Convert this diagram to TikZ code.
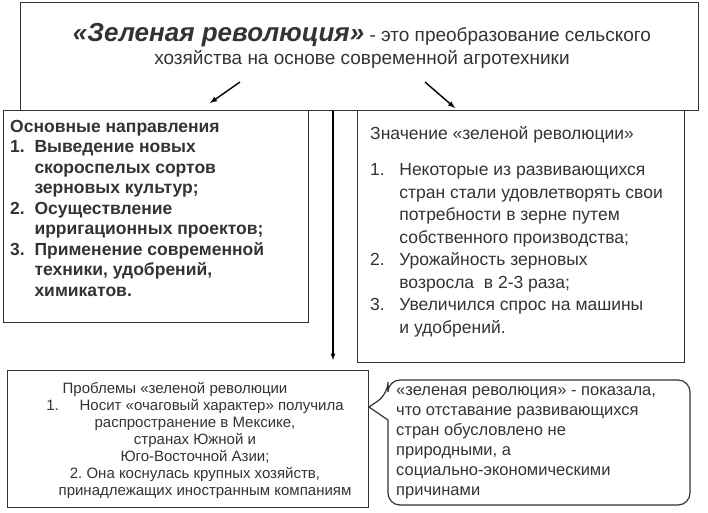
\documentclass[tikz,border=0pt]{standalone}
\usepackage{fontspec}
\setmainfont{Liberation Sans}
\tikzset{
  frame/.style={draw=black!80, line width=1.2pt, anchor=north west, inner sep=0pt},
  body/.style={anchor=north west, align=left, inner sep=0pt, text=black!80},
  link/.style={line width=1.4pt, -latex}
}
\begin{document}
\begin{tikzpicture}[x=1pt, y=-1pt]
			%%%%% START %%%%%
			\useasboundingbox (0, 0) rectangle (708, 512);
			
			\node[frame, minimum width=678pt, minimum height=108pt] (top) at (20, 2) {};
			\node[align=center, text=black!80, font=\fontsize{19}{23}\selectfont] (title) at (362, 46)
				{{\fontsize{26}{23}\selectfont\bfseries\itshape «Зеленая революция»} - это преобразование сельского\\
				 хозяйства на основе современной агротехники};
			
			\node[frame, minimum width=305pt, minimum height=212pt] (ways) at (3, 110) {};
			\node[body, font=\fontsize{17.5}{20.5}\selectfont] (waystext) at (10, 120)
				{\textbf{Основные направления}\\
				 \textbf{1.\ \ Выведение новых}\\
				 \textbf{\phantom{1.\ \ }скороспелых сортов}\\
				 \textbf{\phantom{1.\ \ }зерновых культур;}\\
				 \textbf{2.\ \ Осуществление}\\
				 \textbf{\phantom{1.\ \ }ирригационных проектов;}\\
				 \textbf{3.\ \ Применение современной}\\
				 \textbf{\phantom{1.\ \ }техники, удобрений,}\\
				 \textbf{\phantom{1.\ \ }химикатов.}};
			
			\node[frame, minimum width=327pt, minimum height=252pt] (value) at (357, 110) {};
			\node[body, font=\fontsize{17.5}{22.5}\selectfont] (valuetext) at (370, 126)
				{Значение «зеленой революции»\\[14pt]
				 1.\ \ \ Некоторые из развивающихся\\
				 \phantom{1.\ \ \ }стран стали удовлетворять свои\\
				 \phantom{1.\ \ \ }потребности в зерне путем\\
				 \phantom{1.\ \ \ }собственного производства;\\
				 2.\ \ \ Урожайность зерновых\\
				 \phantom{1.\ \ \ }возросла\ \ в 2-3 раза;\\
				 3.\ \ \ Увеличился спрос на машины\\
				 \phantom{1.\ \ \ }и удобрений.};
			
			\node[frame, minimum width=361pt, minimum height=137pt] (problems) at (7, 370) {};
			\node[align=center, text=black!80, font=\fontsize{15}{17}\selectfont] (problemstext) at (195, 440)
				{\hspace*{-40pt}Проблемы «зеленой революции\\
				 1.\ \ \ \ \ Носит «очаговый характер» получила\\
				 распространение в Мексике,\\
				 странах Южной и\\
				 Юго-Восточной Азии;\\
				 2.\ Она коснулась крупных хозяйств,\\
				 \hspace*{20pt}принадлежащих иностранным компаниям};
			
			\coordinate (tip) at (369, 407);
			\draw[draw=black!80, line width=1.2pt, rounded corners=12pt]
				(388, 394) [sharp corners] -- (tip) -- (388, 420) [rounded corners=12pt]
				-- (388, 505) -- (690, 505) -- (690, 380) -- (388, 380) -- cycle;
			\node[body, font=\fontsize{16.5}{20}\selectfont] (resulttext) at (396, 386)
				{«зеленая революция» - показала,\\
				 что отставание развивающихся\\
				 стран обусловлено не\\
				 природными, а\\
				 социально-экономическими\\
				 причинами};
			
			\coordinate (topleft) at (240, 82);
			\coordinate (topright) at (425, 82);
			\coordinate (topmid) at (333, 110);
			\draw[link] (topleft) -- (210, 103);
			\draw[link] (topright) -- (455, 108);
			\draw[link, line width=1.2pt] (top.south -| topmid) -- (333, 360);
			
			%%%%% END %%%%%
\end{tikzpicture}
\end{document}
